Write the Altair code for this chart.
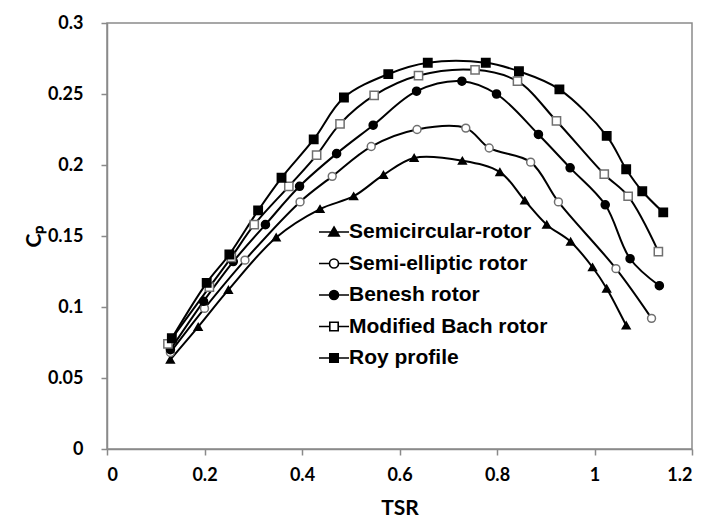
import altair as alt
import pandas as pd

series_names = ["Semicircular-rotor", "Semi-elliptic rotor", "Benesh rotor",
                "Modified Bach rotor", "Roy profile"]

semicircular_x = [0.13, 0.187, 0.249, 0.347, 0.437, 0.506, 0.567, 0.63, 0.729, 0.806,
                  0.857, 0.902, 0.951, 0.996, 1.025, 1.065]
semicircular_y = [0.063, 0.086, 0.112, 0.149, 0.169, 0.178, 0.193, 0.205, 0.203, 0.195,
                  0.175, 0.158, 0.146, 0.128, 0.113, 0.087]

semielliptic_x = [0.13, 0.20, 0.283, 0.396, 0.462, 0.542, 0.636, 0.736, 0.784, 0.869,
                  0.926, 1.044, 1.117]
semielliptic_y = [0.068, 0.099, 0.133, 0.174, 0.192, 0.213, 0.225, 0.226, 0.212, 0.202,
                  0.174, 0.127, 0.092]

benesh_x = [0.13, 0.198, 0.259, 0.325, 0.395, 0.471, 0.546, 0.635, 0.728, 0.799,
            0.885, 0.950, 1.022, 1.073, 1.133]
benesh_y = [0.070, 0.104, 0.132, 0.158, 0.185, 0.208, 0.228, 0.252, 0.259, 0.250,
            0.2215, 0.198, 0.172, 0.134, 0.115]

bach_x = [0.125, 0.21, 0.255, 0.302, 0.373, 0.430, 0.478, 0.548, 0.639, 0.755,
          0.842, 0.922, 1.020, 1.069, 1.131]
bach_y = [0.074, 0.114, 0.135, 0.158, 0.185, 0.207, 0.229, 0.249, 0.263, 0.267,
          0.259, 0.231, 0.1935, 0.178, 0.139]

roy_x = [0.133, 0.2045, 0.251, 0.310, 0.358, 0.424, 0.486, 0.577, 0.658, 0.777,
         0.845, 0.928, 1.025, 1.065, 1.098, 1.141]
roy_y = [0.078, 0.117, 0.137, 0.168, 0.191, 0.218, 0.2475, 0.264, 0.272, 0.272,
         0.266, 0.2533, 0.2205, 0.197, 0.1815, 0.1666]

all_x = [semicircular_x, semielliptic_x, benesh_x, bach_x, roy_x]
all_y = [semicircular_y, semielliptic_y, benesh_y, bach_y, roy_y]

rows = []
for name, xs, ys in zip(series_names, all_x, all_y):
    for xv, yv in zip(xs, ys):
        rows.append({"series": name, "TSR": xv, "Cp": yv})
df = pd.DataFrame(rows)

point_shapes = ["triangle-up", "circle", "circle", "square", "square"]
point_fills = ["black", "white", "black", "white", "black"]
point_strokes = ["black", "#707070", "black", "#707070", "black"]
point_sizes = [60, 70, 65, 80, 80]

legend_paths = [
    "M-1.5,0H1.5M0,-0.5L0.52,0.4L-0.52,0.4Z",
    "M-1.5,0H-0.45M0.45,0H1.5M0.45,0A0.45,0.45 0 1 1 -0.45,0A0.45,0.45 0 1 1 0.45,0Z",
    "M-1.5,0H1.5M0.45,0A0.45,0.45 0 1 1 -0.45,0A0.45,0.45 0 1 1 0.45,0Z",
    "M-1.5,0H-0.42M0.42,0H1.5M-0.42,-0.42H0.42V0.42H-0.42Z",
    "M-1.5,0H1.5M-0.42,-0.42H0.42V0.42H-0.42Z",
]
legend_fills = ["black", "white", "black", "white", "black"]
legend_strokes = ["black", "black", "black", "black", "black"]

x_enc = alt.X("TSR:Q", title="TSR",
              scale=alt.Scale(domain=[0, 1.2], nice=False),
              axis=alt.Axis(values=[0, 0.2, 0.4, 0.6, 0.8, 1.0, 1.2], format=".1~f"))
y_enc = alt.Y("Cp:Q", title="Cₚ",
              scale=alt.Scale(domain=[0, 0.3], nice=False),
              axis=alt.Axis(values=[0, 0.05, 0.1, 0.15, 0.2, 0.25, 0.3], format=".2~f",
                            titleAngle=-90))

base = alt.Chart(df)

lines = base.mark_line(color="black", strokeWidth=2, interpolate="catmull-rom").encode(
    x=x_enc, y=y_enc, detail="series:N"
)

points = base.mark_point(filled=True, strokeWidth=1.5, opacity=1).encode(
    x=x_enc, y=y_enc,
    shape=alt.Shape("series:N", scale=alt.Scale(domain=series_names, range=point_shapes), legend=None),
    fill=alt.Fill("series:N", scale=alt.Scale(domain=series_names, range=point_fills), legend=None),
    stroke=alt.Stroke("series:N", scale=alt.Scale(domain=series_names, range=point_strokes), legend=None),
    size=alt.Size("series:N", scale=alt.Scale(domain=series_names, range=point_sizes), legend=None),
)

legend_props = dict(title=None, orient="none", legendX=216, legendY=198,
                    symbolSize=400, symbolStrokeWidth=1.6,
                    labelOffset=4, rowPadding=10.5, labelFont="Liberation Sans",
                    labelFontWeight="bold", labelFontSize=21, labelColor="black",
                    labelLimit=400)

legend_layer = base.transform_filter("false").mark_point(
    filled=True, strokeWidth=1.6, size=400, opacity=1
).encode(
    x=x_enc, y=y_enc,
    shape=alt.Shape("series:N", scale=alt.Scale(domain=series_names, range=legend_paths),
                    legend=alt.Legend(**legend_props)),
    fill=alt.Fill("series:N", scale=alt.Scale(domain=series_names, range=legend_fills),
                  legend=alt.Legend(**legend_props)),
    stroke=alt.Stroke("series:N", scale=alt.Scale(domain=series_names, range=legend_strokes),
                      legend=alt.Legend(**legend_props)),
)

chart = alt.layer(lines, points, legend_layer).resolve_scale(
    shape="independent", fill="independent", stroke="independent", size="independent"
).properties(
    width=585, height=426,
    autosize=alt.AutoSizeParams(type="none"),
    padding={"left": 107, "top": 23, "right": 17, "bottom": 73},
    background="white",
).configure_view(
    stroke="#8a8a8a", strokeWidth=1.5
).configure_axis(
    grid=False,
    domainColor="#8a8a8a", domainWidth=1.5,
    tickColor="#8a8a8a", tickWidth=1.5, tickSize=6,
    labelFont="Lato", labelFontWeight="bold", labelFontSize=18, labelColor="black",
    titleFont="Lato", titleFontWeight="bold", titleFontSize=21, titleColor="black",
).configure_axisX(
    labelPadding=11, titlePadding=13
).configure_axisY(
    labelPadding=18, titlePadding=3
)

chart.save("out.html", embed_options={"renderer": "svg", "actions": False})
